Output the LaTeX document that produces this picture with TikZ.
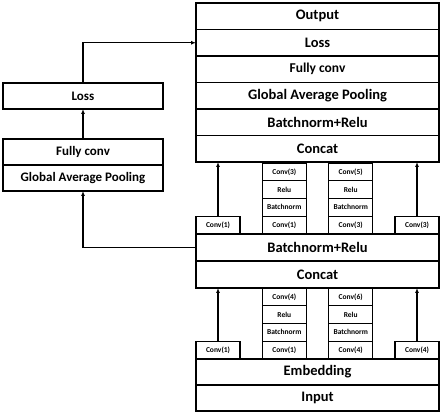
\documentclass[tikz,border=0pt]{standalone}
\usepackage{fontspec}
\setmainfont{Carlito}
\usepackage{tikz}
\usetikzlibrary{arrows.meta,positioning}

\begin{document}
\begin{tikzpicture}[
  x=1pt, y=1pt,
  font=\bfseries,
  row/.style={draw, line width=1.2pt, outer sep=0pt, minimum width=243pt,
              minimum height=26.5pt, inner sep=0pt, font=\fontsize{14.5}{16}\bfseries},
  lrow/.style={draw, line width=1.2pt, outer sep=0pt, minimum width=160pt,
               minimum height=26pt, inner sep=0pt, font=\fontsize{13}{15}\bfseries},
  sm/.style={draw, line width=1.2pt, outer sep=0pt, minimum width=44pt,
             minimum height=17.75pt, inner sep=0pt, font=\fontsize{7.5}{8}\bfseries},
  ar/.style={line width=1.2pt, -{Latex[length=5pt,width=4pt]}}
]
\useasboundingbox (0,0) rectangle (444,415);

% main column, top part
\node[row, anchor=north west] (out) at (196,412) {Output};
\node[row, below=0pt of out] (loss) {Loss};
\node[row, below=0pt of loss, font=\fontsize{13.5}{15}\bfseries] (fc) {Fully conv};
\node[row, below=0pt of fc] (gap) {Global Average Pooling};
\node[row, below=0pt of gap] (br) {Batchnorm+Relu};
\node[row, below=0pt of br] (cat) {Concat};

% middle block
\node[row, anchor=north west, minimum height=27pt] (br2) at (196,181) {Batchnorm+Relu};
\node[row, below=0pt of br2, minimum height=27pt] (cat2) {Concat};

% bottom block
\node[row, anchor=north west, minimum height=26pt] (emb) at (196,56) {Embedding};
\node[row, below=0pt of emb, minimum height=26pt] (inp) {Input};

% branches between middle block and top
\node[sm, above right=0pt and 0pt of br2.north west] (ua) {Conv(1)};
\node[sm, above right=0pt and 66.3pt of br2.north west] (ub1) {Conv(1)};
\node[sm, above=0pt of ub1] (ub2) {Batchnorm};
\node[sm, above=0pt of ub2] (ub3) {Relu};
\node[sm, above=0pt of ub3] (ub4) {Conv(3)};
\node[sm, above right=0pt and 132.7pt of br2.north west] (uc1) {Conv(3)};
\node[sm, above=0pt of uc1] (uc2) {Batchnorm};
\node[sm, above=0pt of uc2] (uc3) {Relu};
\node[sm, above=0pt of uc3] (uc4) {Conv(5)};
\node[sm, above left=0pt and 0pt of br2.north east] (ud) {Conv(3)};

% branches between bottom block and middle
\node[sm, above right=0pt and 0pt of emb.north west] (la) {Conv(1)};
\node[sm, above right=0pt and 66.3pt of emb.north west] (lb1) {Conv(1)};
\node[sm, above=0pt of lb1] (lb2) {Batchnorm};
\node[sm, above=0pt of lb2] (lb3) {Relu};
\node[sm, above=0pt of lb3] (lb4) {Conv(4)};
\node[sm, above right=0pt and 132.7pt of emb.north west] (lc1) {Conv(4)};
\node[sm, above=0pt of lc1] (lc2) {Batchnorm};
\node[sm, above=0pt of lc2] (lc3) {Relu};
\node[sm, above=0pt of lc3] (lc4) {Conv(6)};
\node[sm, above left=0pt and 0pt of emb.north east] (ld) {Conv(4)};

% auxiliary head
\node[lrow, anchor=north west] (lossl) at (3,332) {Loss};
\node[lrow, anchor=north west] (fcl) at (3,276) {Fully conv};
\node[lrow, below=0pt of fcl] (gapl) {Global Average Pooling};

\draw[ar] (ua) -- (ua |- cat.south);
\draw[ar] (ud) -- (ud |- cat.south);
\draw[ar] (la) -- (la |- cat2.south);
\draw[ar] (ld) -- (ld |- cat2.south);
\draw[ar] (br2.west) -| (gapl.south);
\draw[ar] (fcl) -- (lossl);
\draw[ar] (lossl.north) |- (loss.west);
\end{tikzpicture}
\end{document}
